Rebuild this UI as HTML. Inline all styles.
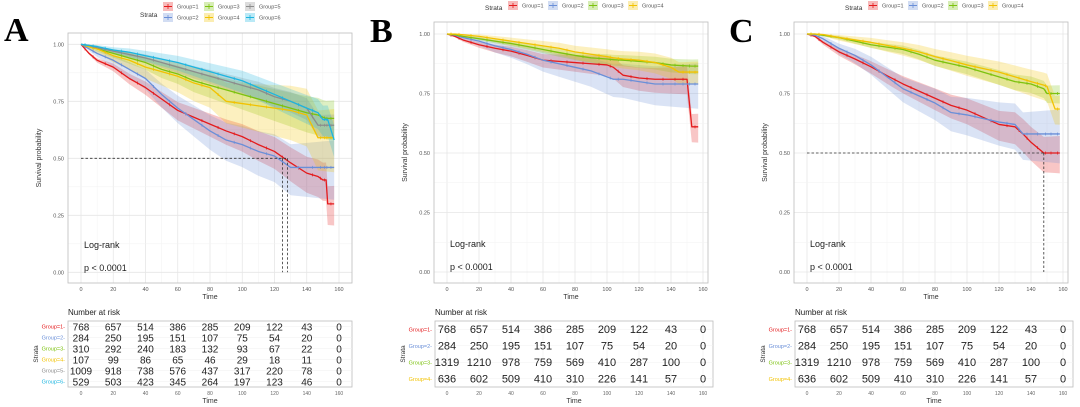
<!DOCTYPE html>
<html><head><meta charset="utf-8">
<style>
body{margin:0;background:#fff;}
svg{display:block;font-family:"Liberation Sans",Arial,sans-serif;}
</style></head>
<body>
<svg id="fig" width="1080" height="407" viewBox="0 0 1080 407" xmlns="http://www.w3.org/2000/svg"></svg>
<script>
// ---------- DATA ----------
const timeTicks = [0,20,40,60,80,100,120,140,160];
const probTicks = [0,0.25,0.5,0.75,1];
const probTickLabels = ["0.00","0.25","0.50","0.75","1.00"];
const colors = ["#E41A1C","#6A8FD8","#7CC20E","#F2C200","#8C8C8C","#1CB5E0"];

// Panel A
const aTimes = [0,5,10,20,30,40,50,60,70,80,90,100,110,120,130,140,147,150,152,153,157];
const aG1 = [1,0.96,0.93,0.90,0.85,0.81,0.76,0.71,0.68,0.65,0.62,0.595,0.56,0.53,0.48,0.435,0.42,0.405,0.405,0.30,0.30];
const aG2 = [1,0.98,0.96,0.93,0.89,0.85,0.78,0.72,0.67,0.62,0.58,0.56,0.53,0.51,0.46,0.46,0.46,0.46,0.46,0.46,0.46];
const aG3 = [1,0.99,0.98,0.96,0.94,0.92,0.89,0.87,0.84,0.82,0.80,0.78,0.76,0.74,0.72,0.70,0.69,0.68,0.675,0.675,0.675];
const aG4 = [1,0.99,0.98,0.95,0.93,0.90,0.88,0.86,0.83,0.81,0.75,0.74,0.73,0.72,0.71,0.69,0.59,0.59,0.59,0.59,0.59];
const aG5 = [1,0.995,0.985,0.97,0.955,0.94,0.92,0.90,0.88,0.86,0.84,0.82,0.80,0.77,0.75,0.72,0.645,0.645,0.645,0.645,0.645];
const aG6 = [1,0.995,0.99,0.975,0.965,0.95,0.935,0.92,0.90,0.88,0.86,0.84,0.81,0.78,0.75,0.72,0.70,0.67,0.67,0.67,0.58];
const aCI = [0.05,0.075,0.05,0.08,0.03,0.04];
const aRisk = [[768,657,514,386,285,209,122,43,0],[284,250,195,151,107,75,54,20,0],[310,292,240,183,132,93,67,22,0],[107,99,86,65,46,29,18,11,0],[1009,918,738,576,437,317,220,78,0],[529,503,423,345,264,197,123,46,0]];
const aMedians = [125,128];

// Panel B
const bTimes = [0,5,10,20,30,40,50,60,70,80,90,100,104,110,120,130,140,145,150,153,157];
const bG1 = [1,0.99,0.975,0.955,0.94,0.928,0.91,0.89,0.885,0.88,0.875,0.87,0.86,0.827,0.815,0.81,0.81,0.81,0.81,0.61,0.61];
const bG2 = [1,0.995,0.985,0.97,0.95,0.935,0.915,0.89,0.875,0.86,0.845,0.82,0.81,0.81,0.80,0.79,0.79,0.79,0.79,0.79,0.79];
const bG3 = [1,0.997,0.99,0.98,0.97,0.96,0.948,0.935,0.922,0.91,0.90,0.895,0.892,0.89,0.885,0.88,0.87,0.868,0.866,0.865,0.865];
const bG4 = [1,1,0.997,0.99,0.98,0.97,0.96,0.95,0.94,0.925,0.915,0.905,0.90,0.895,0.89,0.88,0.86,0.84,0.84,0.84,0.84];
const bCI = [0.035,0.055,0.018,0.028];
const risk4 = [[768,657,514,386,285,209,122,43,0],[284,250,195,151,107,75,54,20,0],[1319,1210,978,759,569,410,287,100,0],[636,602,509,410,310,226,141,57,0]];

// Panel C
const cTimes = [0,5,10,20,30,40,50,60,70,80,90,100,110,120,130,135,140,148,150,155,158];
const cG1 = [1,0.99,0.965,0.925,0.895,0.862,0.825,0.79,0.76,0.73,0.70,0.68,0.65,0.62,0.61,0.58,0.545,0.50,0.50,0.50,0.50];
const cG2 = [1,0.995,0.98,0.94,0.91,0.87,0.82,0.77,0.74,0.71,0.67,0.66,0.645,0.63,0.62,0.58,0.58,0.58,0.58,0.58,0.58];
const cG3 = [1,1,0.995,0.985,0.97,0.955,0.945,0.935,0.915,0.89,0.875,0.86,0.84,0.82,0.80,0.795,0.79,0.77,0.75,0.75,0.75];
const cG4 = [1,1,0.998,0.985,0.975,0.965,0.952,0.94,0.925,0.905,0.888,0.87,0.855,0.84,0.82,0.81,0.80,0.785,0.78,0.685,0.685];
const cCI = [0.045,0.065,0.022,0.035];
const cMedians = [148];

// ---------- RENDER ----------
const NS="http://www.w3.org/2000/svg";
const svg=document.getElementById('fig');
function mk(tag,attrs,parent,text){const e=document.createElementNS(NS,tag);for(const k in attrs)e.setAttribute(k,attrs[k]);if(text!==undefined)e.textContent=text;(parent||svg).appendChild(e);return e;}

function panel(cfg){
  const g=mk('g',{});
  
  
  const X=t=>cfg.x0+(t/160)*(cfg.x160-cfg.x0);
  const Y=p=>cfg.y0+(1-p)*(cfg.yz-cfg.y0);
  const bg=mk('rect',{x:cfg.bx0,y:cfg.by0,width:cfg.bx1-cfg.bx0,height:cfg.by1-cfg.by0,fill:'#fff'},g);
  
  for(let i=0;i<timeTicks.length;i++){
    mk('line',{x1:X(timeTicks[i]),x2:X(timeTicks[i]),y1:cfg.by0,y2:cfg.by1,stroke:'#e6e6e6','stroke-width':0.8},g);
    if(i<timeTicks.length-1){const m=(timeTicks[i]+timeTicks[i+1])/2;mk('line',{x1:X(m),x2:X(m),y1:cfg.by0,y2:cfg.by1,stroke:'#f2f2f2','stroke-width':0.5},g);}
  }
  for(let i=0;i<probTicks.length;i++){
    mk('line',{y1:Y(probTicks[i]),y2:Y(probTicks[i]),x1:cfg.bx0,x2:cfg.bx1,stroke:'#e6e6e6','stroke-width':0.8},g);
    if(i<probTicks.length-1){const m=(probTicks[i]+probTicks[i+1])/2;mk('line',{y1:Y(m),y2:Y(m),x1:cfg.bx0,x2:cfg.bx1,stroke:'#f2f2f2','stroke-width':0.5},g);}
    const t=mk('text',{x:cfg.bx0-4,y:Y(probTicks[i])+2,'font-size':5.5,fill:'#555','text-anchor':'end'},g,probTickLabels[i]);
    
  }
  timeTicks.forEach(v=>{const t=mk('text',{x:X(v),y:cfg.by1+8,'font-size':5.5,fill:'#555','text-anchor':'middle'},g,String(v));
    });
  const xt=mk('text',{x:(cfg.bx0+cfg.bx1)/2,y:cfg.by1+16,'font-size':7,fill:'#333','text-anchor':'middle'},g,'Time');
  
  const cy=(cfg.by0+cfg.by1)/2;
  const yt=mk('text',{x:cfg.bx0-27,y:cy,'font-size':7,fill:'#333','text-anchor':'middle',transform:`rotate(-90 ${cfg.bx0-27} ${cy})`},g,'Survival probability');
  
  cfg.series.forEach((s,k)=>{
    const ts=cfg.times;const col=colors[k];
    let up='',lo=[];
    for(let i=0;i<ts.length;i++){
      const w=cfg.ci[k]*Math.pow(ts[i]/160,0.8)*1.6;
      const hi=Math.min(1,s[i]+w),l=s[i]-w*1.2;
      up+=(i?'L':'M')+X(ts[i])+','+Y(hi);
      lo.unshift('L'+X(ts[i])+','+Y(l));
    }
    const band=mk('path',{d:up+lo.join('')+'Z',fill:col,'fill-opacity':0.25,stroke:'none'},g);
    
  });
  cfg.series.forEach((s,k)=>{
    const ts=cfg.times;let d='';
    for(let i=0;i<ts.length;i++){ d+=(i?'L':'M')+X(ts[i])+','+Y(s[i]); }
    const p=mk('path',{d:d,fill:'none',stroke:colors[k],'stroke-width':1.3,'stroke-linejoin':'round'},g);
    
    for(let i=1;i<ts.length;i++){const xm=(X(ts[i-1])+X(ts[i]))/2,ym=(Y(s[i-1])+Y(s[i]))/2;
      mk('line',{x1:xm,x2:xm,y1:ym-1.5,y2:ym+1.5,stroke:colors[k],'stroke-width':0.7},g);}
  });
  if(cfg.medians){
    const mx=Math.max(...cfg.medians);
    mk('line',{x1:X(0),x2:X(mx),y1:Y(0.5),y2:Y(0.5),stroke:'#333','stroke-width':0.8,'stroke-dasharray':'2.5,2'},g);
    cfg.medians.forEach(m=>mk('line',{x1:X(m),x2:X(m),y1:Y(0.5),y2:Y(0),stroke:'#333','stroke-width':0.8,'stroke-dasharray':'2.5,2'},g));
  }
  mk('rect',{x:cfg.bx0,y:cfg.by0,width:cfg.bx1-cfg.bx0,height:cfg.by1-cfg.by0,fill:'none',stroke:'#bdbdbd','stroke-width':0.8},g);
  const lr=mk('text',{x:cfg.x0+3,y:cfg.lrY,'font-size':9,fill:'#222'},g,'Log-rank');
  
  const pv=mk('text',{x:cfg.x0+3,y:cfg.lrY+23,'font-size':9,fill:'#222'},g,'p < 0.0001');
  
  const L=mk('text',{x:cfg.letterX,y:cfg.letterY,'font-size':34,'font-weight':'bold','font-family':'"Liberation Serif",serif',fill:'#000'},g,cfg.letter);
  
  const lg=mk('g',{},g);
  
  mk('text',{x:cfg.legX,y:cfg.legY+(cfg.series.length>4?11:5),'font-size':6.5,fill:'#333'},lg,'Strata');
  cfg.series.forEach((s,k)=>{
    const col=cfg.series.length>4?Math.floor(k/2):k, row=cfg.series.length>4?k%2:0;
    const kx=cfg.legX+23+col*cfg.legStep, ky=cfg.legY+row*11-4;
    const it=mk('g',{},lg);
    
    mk('rect',{x:kx,y:ky,width:10,height:9,fill:colors[k],'fill-opacity':0.3},it);
    mk('line',{x1:kx+1,x2:kx+9,y1:ky+4.5,y2:ky+4.5,stroke:colors[k],'stroke-width':1},it);
    mk('line',{x1:kx+5,x2:kx+5,y1:ky+2,y2:ky+7,stroke:colors[k],'stroke-width':0.8},it);
    mk('text',{x:kx+14,y:ky+6.5,'font-size':5.5,fill:'#555'},it,'Group='+(k+1));
  });
  const tg=mk('g',{},g);
  
  mk('text',{x:cfg.tbx0,y:315,'font-size':8,fill:'#222'},tg,'Number at risk');
  mk('rect',{x:cfg.tbx0,y:321,width:cfg.tbx1-cfg.tbx0,height:66,fill:'#fff',stroke:'#bdbdbd','stroke-width':0.8},tg);
  timeTicks.forEach(v=>{mk('line',{x1:X(v),x2:X(v),y1:321,y2:387,stroke:'#eee','stroke-width':0.6},tg);
    mk('text',{x:X(v),y:395,'font-size':5,fill:'#666','text-anchor':'middle'},tg,String(v));});
  mk('text',{x:(cfg.tbx0+cfg.tbx1)/2,y:403,'font-size':7,fill:'#333','text-anchor':'middle'},tg,'Time');
  const n=cfg.risk.length, step=66/n;
  mk('text',{x:cfg.tbx0-30,y:354,'font-size':6.5,fill:'#333','text-anchor':'middle',transform:`rotate(-90 ${cfg.tbx0-30} 354)`},tg,'Strata');
  cfg.risk.forEach((r,k)=>{
    const ry=321+step*(k+0.5);
    mk('line',{x1:cfg.tbx0,x2:cfg.tbx1,y1:ry,y2:ry,stroke:'#f0f0f0','stroke-width':0.6},tg);
    mk('text',{x:cfg.tbx0-3,y:ry+2,'font-size':5.5,fill:colors[k],'text-anchor':'end'},tg,'Group='+(k+1)+'-');
    r.forEach((v,i)=>{const t=mk('text',{x:X(timeTicks[i]),y:ry+3.8,'font-size':n>4?10:11,fill:'#222','text-anchor':'middle'},tg,String(v));
      });
  });
}

panel({name:'a',letter:'A',letterX:4,letterY:41,x0:81,x160:339,y0:44.3,yz:272.3,bx0:68,bx1:352,by0:33,by1:283,
  times:aTimes,series:[aG1,aG2,aG3,aG4,aG5,aG6],ci:aCI,medians:aMedians,lrY:248,
  legX:140,legY:6,legStep:41,tbx0:68,tbx1:352,risk:aRisk});
panel({name:'b',letter:'B',letterX:370,letterY:42,x0:447,x160:703,y0:34,yz:272,bx0:434,bx1:708,by0:22,by1:283,
  times:bTimes,series:[bG1,bG2,bG3,bG4],ci:bCI,medians:null,lrY:247,
  legX:485,legY:5,legStep:40,tbx0:435,tbx1:713,risk:risk4});
panel({name:'c',letter:'C',letterX:729,letterY:42,x0:807,x160:1063,y0:34,yz:272,bx0:794,bx1:1068,by0:22,by1:283,
  times:cTimes,series:[cG1,cG2,cG3,cG4],ci:cCI,medians:cMedians,lrY:247,
  legX:845,legY:5,legStep:40,tbx0:795,tbx1:1073,risk:risk4});
</script>
</body></html>
